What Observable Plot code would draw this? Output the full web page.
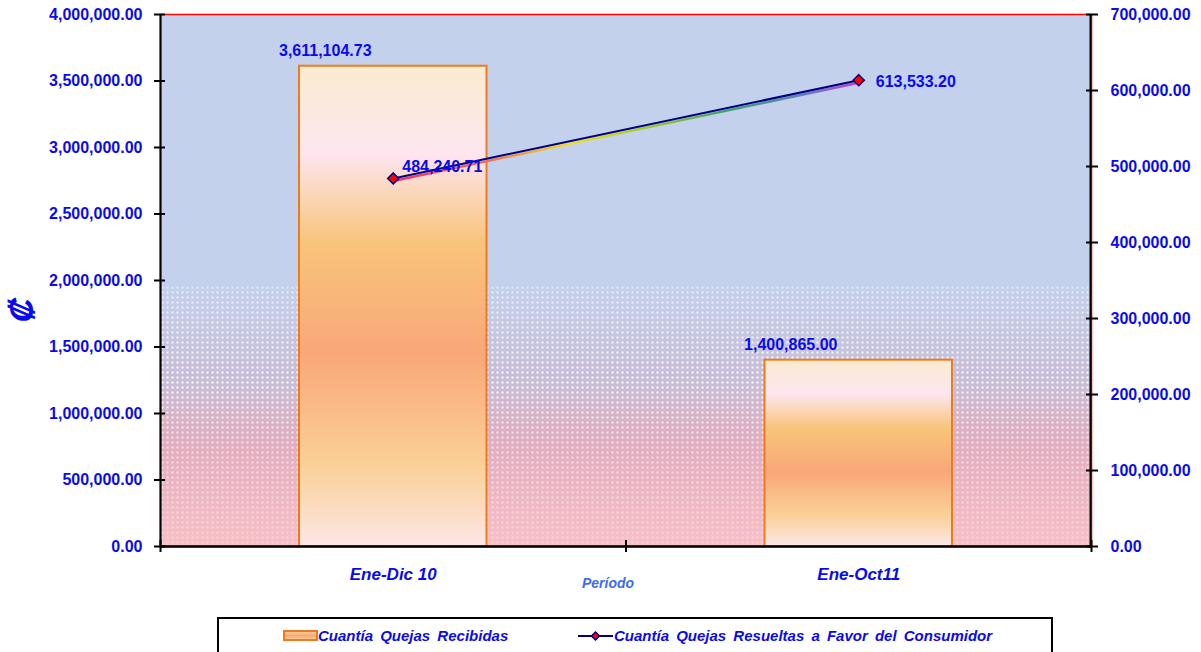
<!DOCTYPE html>
<html><head><meta charset="utf-8">
<script src="https://cdn.jsdelivr.net/npm/d3@7"></script>
<script src="https://cdn.jsdelivr.net/npm/@observablehq/plot@0.6"></script>
<style>
body{margin:0;background:#fff;font-family:"Liberation Sans",Arial,sans-serif;}
#chart{position:absolute;left:0;top:0;}
#legend{position:absolute;left:217px;top:617px;width:832px;height:44px;border:2px solid #000;background:#fff;}
#legend .sw{position:absolute;top:11px;}
#legend .lab{position:absolute;top:8px;font-size:15px;font-weight:bold;font-style:italic;color:#0A0AF0;line-height:18px;white-space:nowrap;word-spacing:3px;}
</style></head><body>
<svg width="0" height="0" style="position:absolute">
<defs>
 <linearGradient id="barGrad" x1="0" y1="0" x2="0" y2="1">
  <stop offset="0" stop-color="#FAEBD0"/>
  <stop offset="0.18" stop-color="#FDE6F0"/>
  <stop offset="0.37" stop-color="#F8C47A"/>
  <stop offset="0.6" stop-color="#F9A779"/>
  <stop offset="0.83" stop-color="#FAD096"/>
  <stop offset="1" stop-color="#FDE6E6"/>
 </linearGradient>
 <linearGradient id="swGrad" x1="0" y1="0" x2="0" y2="1">
  <stop offset="0" stop-color="#FAD8A8"/>
  <stop offset="0.5" stop-color="#F9A779"/>
  <stop offset="1" stop-color="#FAD096"/>
 </linearGradient>
 <linearGradient id="bgGrad" x1="0" y1="0" x2="0" y2="1">
  <stop offset="0" stop-color="#C3D1EC"/>
  <stop offset="0.51" stop-color="#C3D1EC"/>
  <stop offset="0.68" stop-color="#C8BDD8"/>
  <stop offset="0.8" stop-color="#DCBCD0"/>
  <stop offset="1" stop-color="#FBE4E8"/>
 </linearGradient>
 <pattern id="dots" width="5" height="5" patternUnits="userSpaceOnUse">
  <rect x="1" y="1" width="2" height="2" fill="#FFFFFF"/>
 </pattern>
 <pattern id="checker" width="2" height="2" patternUnits="userSpaceOnUse">
  <rect x="0" y="0" width="1" height="1" fill="#F06878"/>
  <rect x="1" y="1" width="1" height="1" fill="#F06878"/>
 </pattern>
 <linearGradient id="dotsMaskGrad" x1="0" y1="0" x2="0" y2="1">
  <stop offset="0" stop-color="#000"/>
  <stop offset="0.505" stop-color="#000"/>
  <stop offset="0.515" stop-color="#aaa"/>
  <stop offset="0.7" stop-color="#fff"/>
  <stop offset="1" stop-color="#fff"/>
 </linearGradient>
 <linearGradient id="checkMaskGrad" x1="0" y1="0" x2="0" y2="1">
  <stop offset="0" stop-color="#000"/>
  <stop offset="0.7" stop-color="#000"/>
  <stop offset="0.82" stop-color="#666"/>
  <stop offset="1" stop-color="#999"/>
 </linearGradient>
 <mask id="dotsMask" maskContentUnits="objectBoundingBox"><rect x="0" y="0" width="1" height="1" fill="url(#dotsMaskGrad)"/></mask>
 <mask id="checkMask" maskContentUnits="objectBoundingBox"><rect x="0" y="0" width="1" height="1" fill="url(#checkMaskGrad)"/></mask>
 <linearGradient id="rainbow" x1="0" y1="0" x2="1" y2="0">
  <stop offset="0" stop-color="#E8307A"/>
  <stop offset="0.2" stop-color="#F07050"/>
  <stop offset="0.38" stop-color="#F0E020"/>
  <stop offset="0.55" stop-color="#A0C830"/>
  <stop offset="0.72" stop-color="#40A070"/>
  <stop offset="0.88" stop-color="#6080C0"/>
  <stop offset="1" stop-color="#C040D0"/>
 </linearGradient>
</defs>
</svg>
<div id="chart"></div>
<div id="legend">
 <svg class="sw" style="left:64px" width="35" height="12"><rect x="1" y="1" width="33" height="9" fill="url(#swGrad)" stroke="#F07A1A" stroke-width="2"/></svg>
 <span class="lab" style="left:99px">Cuantía Quejas Recibidas</span>
 <svg class="sw" style="left:359px;top:10px" width="36" height="14"><line x1="0" y1="7" x2="35" y2="7" stroke="#000080" stroke-width="2"/><path d="M17.5,3 L21.5,7 L17.5,11 L13.5,7 Z" fill="red" stroke="#000080" stroke-width="1.5"/></svg>
 <span class="lab" style="left:395px">Cuantía Quejas Resueltas a Favor del Consumidor</span>
</div>
<script>
const categories = ["Ene-Dic 10", "Ene-Oct11"];
const recibidas = [3611104.73, 1400865.00];
const resueltas = [484240.71, 613533.20];
const leftTicks = [0, 500000, 1000000, 1500000, 2000000, 2500000, 3000000, 3500000, 4000000];
const rightTicks = [0, 100000, 200000, 300000, 400000, 500000, 600000, 700000];
const leftMax = 4000000, rightMax = 700000;
const k = leftMax / rightMax;

const bars = categories.map((c, i) => ({i, cat: c, value: recibidas[i]}));
const pts = categories.map((c, i) => ({i, cat: c, value: resueltas[i], y: resueltas[i] * k}));
const fmt = d3.format(",.2f");
const blue = "#0A0AF0";
const xc = d => d.i + 0.5;

const chart = Plot.plot({
  width: 1201, height: 612,
  marginTop: 14, marginLeft: 160, marginRight: 110, marginBottom: 66,
  x: {domain: [0, categories.length], axis: null},
  y: {domain: [0, leftMax], axis: null},
  style: {fontFamily: "'Liberation Sans', Arial, sans-serif", background: "white", overflow: "visible"},
  marks: [
    Plot.frame({fill: "url(#bgGrad)"}),
    Plot.frame({fill: "url(#dots)"}),
    Plot.frame({fill: "url(#checker)"}),
    Plot.frame({stroke: "red", strokeWidth: 1.5}),
    Plot.rectY(bars, {x1: d => d.i, x2: d => d.i + 1, y: "value", insetLeft: 139, insetRight: 139,
      fill: "url(#barGrad)", stroke: "#F07A1A", strokeWidth: 2}),
    Plot.ruleX([0], {stroke: "black", strokeWidth: 2}),
    Plot.ruleX([categories.length], {stroke: "black", strokeWidth: 2, dx: -1}),
    Plot.ruleY([0], {stroke: "black", strokeWidth: 2.5}),
    // tick marks
    Plot.axisY({ticks: leftTicks, anchor: "left", tickSize: 6, tickFormat: () => "", stroke: "black", strokeWidth: 2}),
    Plot.axisY({ticks: leftTicks, anchor: "left", tickSize: -5, tickFormat: () => "", stroke: "black", strokeWidth: 2}),
    Plot.axisY({ticks: rightTicks.map(v => v * k), anchor: "right", tickSize: 6, tickFormat: () => "", stroke: "black", strokeWidth: 2}),
    Plot.axisY({ticks: rightTicks.map(v => v * k), anchor: "right", tickSize: -6, tickFormat: () => "", stroke: "black", strokeWidth: 2}),
    Plot.axisX({ticks: [0, 1, 2], anchor: "bottom", tickSize: 6, tickFormat: () => "", stroke: "black", strokeWidth: 2}),
    Plot.axisX({ticks: [0, 1, 2], anchor: "bottom", tickSize: -6, tickFormat: () => "", stroke: "black", strokeWidth: 2}),
    // tick labels
    Plot.axisY({ticks: leftTicks, anchor: "left", tickSize: 0, tickPadding: 18, tickFormat: fmt,
      fill: blue, fontSize: 16, fontWeight: "bold"}),
    Plot.axisY({ticks: rightTicks.map(v => v * k), anchor: "right", tickSize: 0, tickPadding: 19,
      tickFormat: d => fmt(Math.round(d / k)), fill: blue, fontSize: 16, fontWeight: "bold"}),
    Plot.axisX({ticks: categories.map((c, i) => i + 0.5), anchor: "bottom", tickSize: 0, tickPadding: 21,
      tickFormat: d => categories[Math.floor(d)], fill: blue, fontSize: 17, fontWeight: "bold", fontStyle: "italic"}),
    // line series
    Plot.line(pts, {x: xc, y: "y", stroke: "url(#rainbow)", strokeWidth: 2.5, dy: 2.5}),
    Plot.line(pts, {x: xc, y: "y", stroke: "#000080", strokeWidth: 2}),
    Plot.dot(pts, {x: xc, y: "y", symbol: "diamond2", r: 5, fill: "red", stroke: "#000080", strokeWidth: 1.5}),
    // labels
    Plot.text(bars, {x: xc, y: "value", text: d => fmt(d.value), dx: -68, dy: -15,
      fill: blue, fontSize: 16, fontWeight: "bold"}),
    Plot.text(pts.slice(0, 1), {x: xc, y: "y", text: d => fmt(d.value), textAnchor: "start", dx: 9, dy: -12,
      fill: blue, fontSize: 16, fontWeight: "bold"}),
    Plot.text(pts.slice(1), {x: xc, y: "y", text: d => fmt(d.value), textAnchor: "start", dx: 17, dy: 2,
      fill: blue, fontSize: 16, fontWeight: "bold"}),
    Plot.text(["₡"], {frameAnchor: "left", dx: -138, dy: 42, rotate: -90, fill: blue, fontSize: 34,
      fontWeight: "bold", fontStyle: "italic"}),
    Plot.text(["Período"], {frameAnchor: "bottom", dx: -18, dy: 41, fill: "#3C6CF0", fontSize: 14,
      fontWeight: "bold", fontStyle: "italic"})
  ]
});
const frames = chart.querySelectorAll('[aria-label="frame"]');
if (frames[1]) frames[1].setAttribute("mask", "url(#dotsMask)");
if (frames[2]) frames[2].setAttribute("mask", "url(#checkMask)");
document.getElementById("chart").appendChild(chart);
</script>
</body></html>
